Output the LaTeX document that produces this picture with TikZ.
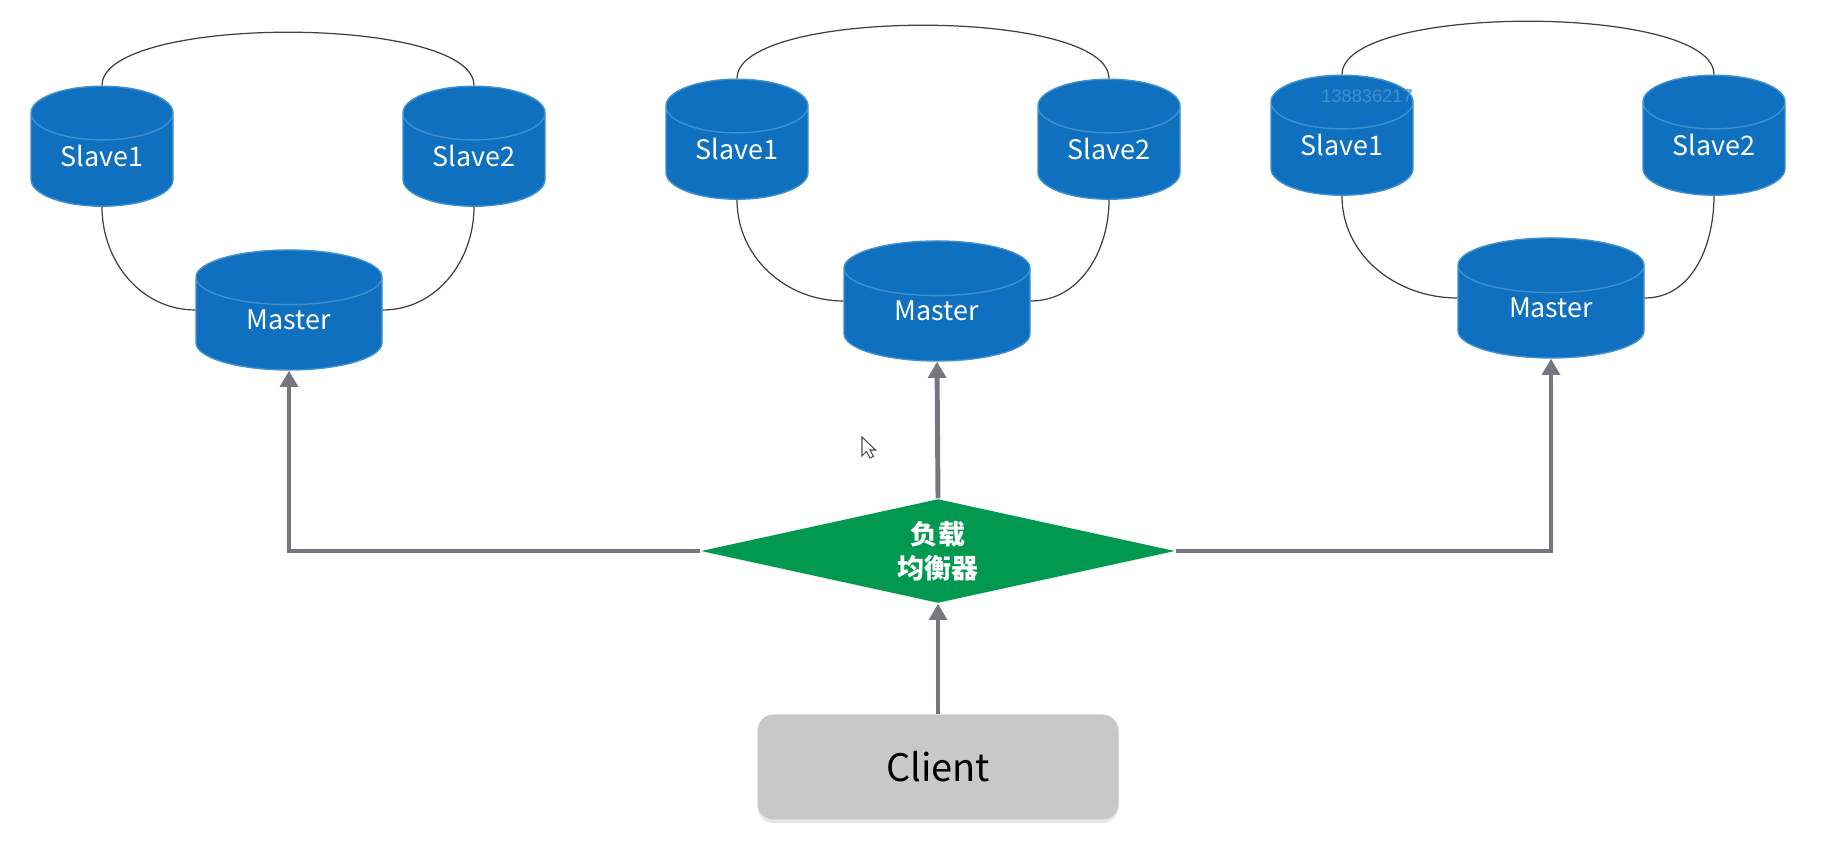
\documentclass[tikz,border=0pt]{standalone}
\usepackage{fontspec}
\setmainfont{Noto Sans CJK SC}
\newfontfamily\markfont{Liberation Sans}
\usetikzlibrary{shapes.geometric,arrows.meta,shadows}
\definecolor{dbblue}{HTML}{0F70BF}
\definecolor{dbline}{HTML}{3F90CF}
\definecolor{lbgreen}{HTML}{00994F}
\definecolor{flowgray}{HTML}{76767F}
\definecolor{clientgray}{HTML}{C8C8C9}
\newcommand{\dbl}[1]{\raisebox{0.045cm}[\height][\depth]{#1}}

\begin{document}
\begin{tikzpicture}[db/.style={cylinder, shape border rotate=90, shape aspect=0.65, draw=dbline, line width=0.4pt, fill=dbblue,
	text=white, inner sep=0pt, minimum height=1.20cm, font=\fontsize{7.65pt}{10pt}\selectfont},
	slavedb/.style={db, minimum width=1.42cm},
	masterdb/.style={db, minimum width=1.86cm},
	wire/.style={draw=black!75, line width=0.35pt},
	flow/.style={draw=flowgray, line width=1.4pt, -{Triangle[width=5pt, length=4.6pt]}}]
\useasboundingbox (0, 0) rectangle (18.41, 8.49);
\node [slavedb] (SA1) at (1.02, 6.89) {\dbl{Slave1}};
\node [slavedb] (SA2) at (4.74, 6.89) {\dbl{Slave2}};
\node [masterdb] (MA) at (2.89, 5.25) {\dbl{Master}};
\node [slavedb] (SB1) at (7.37, 6.96) {\dbl{Slave1}};
\node [slavedb] (SB2) at (11.09, 6.96) {\dbl{Slave2}};
\node [masterdb] (MB) at (9.37, 5.34) {\dbl{Master}};
\node [slavedb] (SC1) at (13.42, 7.00) {\dbl{Slave1}};
\node [slavedb] (SC2) at (17.14, 7.00) {\dbl{Slave2}};
\node [masterdb] (MC) at (15.51, 5.37) {\dbl{Master}};
\node [diamond, fill=lbgreen, text=white, inner sep=0pt, aspect=4.5, minimum width=4.74cm, minimum height=1.04cm,
	drop shadow={shadow xshift=0pt, shadow yshift=-0.3pt, opacity=0.12},
	align=center, font=\fontsize{7.7pt}{9.6pt}\selectfont\bfseries] (LB) at (9.38, 2.98) {负载\\均衡器};
\node [rectangle, rounded corners=0.16cm, fill=clientgray, text=black, minimum width=3.61cm, minimum height=1.05cm,
	drop shadow={shadow xshift=0pt, shadow yshift=-1pt, opacity=0.2},
	font=\fontsize{10.8pt}{14pt}\selectfont] (CL) at (9.38, 0.82) {Client};
\node [text=dbline, inner sep=0pt, font=\markfont\fontsize{5.2pt}{6pt}\selectfont] (WM) at (13.67, 7.53) {138836217};
\draw[wire] (SA1.north) to[out=90, in=90, looseness=0.49] (SA2.north);
\draw[wire] (SA1.south) to[out=-90, in=180] (MA.shape center -| MA.west);
\draw[wire] (SA2.south) to[out=-90, in=0] (MA.shape center -| MA.east);
\draw[wire] (SB1.north) to[out=90, in=90, looseness=0.49] (SB2.north);
\draw[wire] (SB1.south) to[out=-90, in=180] (MB.shape center -| MB.west);
\draw[wire] (SB2.south) to[out=-90, in=0] (MB.shape center -| MB.east);
\draw[wire] (SC1.north) to[out=90, in=90, looseness=0.49] (SC2.north);
\draw[wire] (SC1.south) to[out=-90, in=180] (MC.shape center -| MC.west);
\draw[wire] (SC2.south) to[out=-90, in=0] (MC.shape center -| MC.east);
\draw[flow] (CL.north) -- (LB.south);
\draw[flow] (LB.north) -- (MB.south);
\draw[flow] (LB.west) -| (MA.south);
\draw[flow] (LB.east) -| (MC.south);
\draw[black!70, fill=white, line width=0.3pt] (8.62, 4.12) -- (8.62, 3.93) -- (8.665, 3.975) -- (8.70, 3.91) -- (8.735, 3.925) -- (8.70, 3.99) -- (8.755, 3.99) -- cycle;
\end{tikzpicture}
\end{document}
